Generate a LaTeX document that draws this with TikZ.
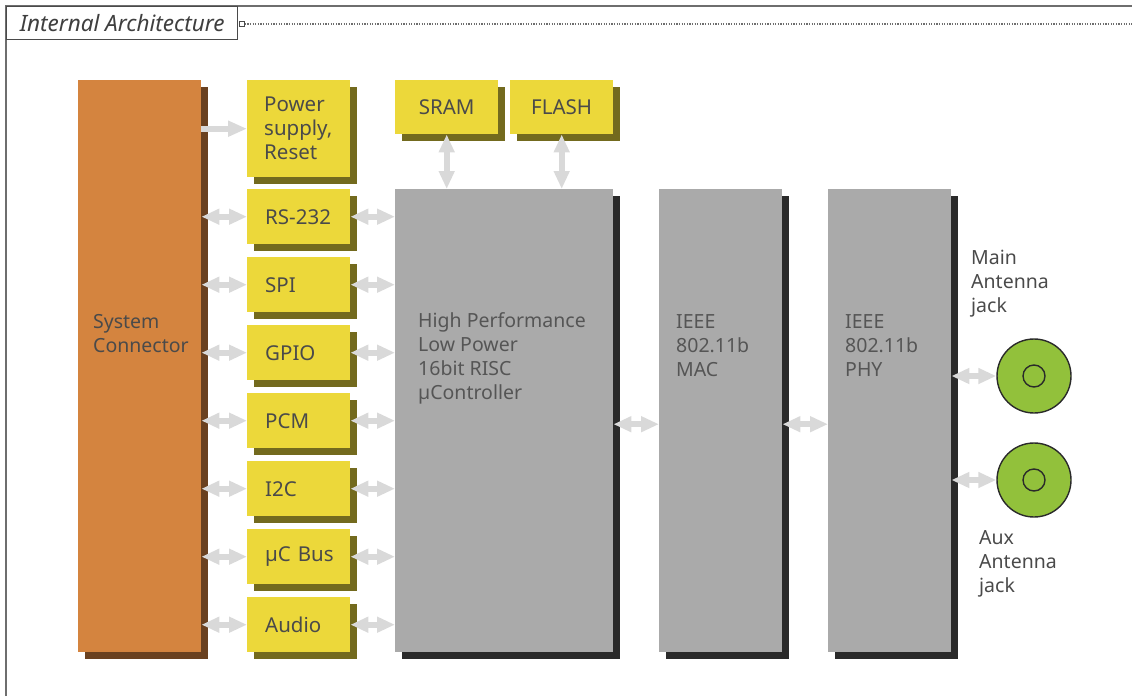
\documentclass[tikz,border=0pt]{standalone}
\usepackage{fontspec}
\setsansfont{Noto Sans}
\usetikzlibrary{arrows.meta,shadows,calc}

\definecolor{sysorange}{HTML}{D4843F}
\definecolor{sysshade}{HTML}{6A4120}
\definecolor{ifyellow}{HTML}{ECD83A}
\definecolor{ifshade}{HTML}{736A1E}
\definecolor{coregray}{HTML}{AAAAAA}
\definecolor{coreshade}{HTML}{2A2A2A}
\definecolor{jackgreen}{HTML}{92C13B}
\definecolor{linkgray}{HTML}{D9D9D9}
\definecolor{labeltext}{HTML}{4A4A4A}
\definecolor{coretext}{HTML}{555555}
\definecolor{frameline}{HTML}{6E6E6E}

\tikzset{
  boxshadow/.style={drop shadow={shadow xshift=7pt, shadow yshift=-7pt, fill=#1, opacity=1}},
  sysbox/.style={fill=sysorange, boxshadow=sysshade, anchor=north west, inner sep=0pt,
    minimum width=123pt, minimum height=572pt},
  port/.style={fill=ifyellow, boxshadow=ifshade, anchor=north west, text=labeltext,
    minimum width=103pt, minimum height=55pt, inner xsep=18pt, text width=67pt, align=left,
    font=\sffamily\fontsize{20.5}{24}\selectfont},
  mem/.style={port, align=center, inner xsep=4pt, text width=95pt, minimum height=54pt},
  core/.style={fill=coregray, boxshadow=coreshade, anchor=north west, inner sep=0pt,
    minimum height=463pt},
  boxtext/.style={anchor=west, align=left, inner sep=0pt, text=coretext,
    font=\sffamily\fontsize{19.5}{24}\selectfont},
  link/.style={draw=linkgray, line width=6pt,
    {Triangle[width=15pt,length=18pt]}-{Triangle[width=15pt,length=18pt]}},
  feed/.style={draw=linkgray, line width=6pt, -{Triangle[width=15pt,length=19pt]}},
  jack/.style={circle, fill=jackgreen, draw=coreshade, line width=1.4pt, minimum size=74pt, inner sep=0pt},
  jackcore/.style={circle, draw=coreshade, line width=1.4pt, minimum size=22pt, inner sep=0pt},
}

\begin{document}
\begin{tikzpicture}[x=1pt, y=-1pt]
  \useasboundingbox (0,0) rectangle (1132,696);

  % ==========================================
  % FRAME & TITLE
  % ==========================================
  \coordinate (frameend) at (1132,6);
  \draw[frameline, line width=1.8pt] (6,696) -- (6,6) -- (frameend);
  \node[draw=coreshade!85, line width=1.3pt, fill=white, anchor=north west,
        minimum width=231pt, minimum height=33pt, text=coreshade!90,
        font=\sffamily\itshape\fontsize{22.5}{24}\selectfont] (title) at (6,6) {Internal Architecture};
  \node[draw=coreshade!85, line width=0.9pt, fill=white, minimum size=5pt, inner sep=0pt] (tab)
        at ($(title.east)+(3.5,1)$) {};
  \draw[frameline, line width=1.4pt, dash pattern=on 1.3pt off 1.3pt] (tab.east) -- (tab.east -| frameend);

  % ==========================================
  % SYSTEM CONNECTOR & INTERFACES
  % ==========================================
  \node[sysbox] (sys) at (78,80) {};
  \node[boxtext, text=labeltext] (systxt) at (93,334) {System\\Connector};

  \node[port, minimum height=97pt, inner xsep=17pt, text width=69pt] (pwr) at (247,80) {Power\\supply,\\Reset};

  \foreach \name/\txt [count=\i] in {rs/RS-232, spi/SPI, gpio/GPIO, pcm/PCM, iic/I2C, ubus/µC Bus, audio/Audio}
    \node[port] (\name) at (247,121+68*\i) {\mbox{\txt}};

  % ==========================================
  % PROCESSOR, MAC & PHY
  % ==========================================
  \node[mem] (sram) at (395,80) {SRAM};
  \node[mem] (flash) at (510,80) {FLASH};

  \node[core, minimum width=218pt] (mcu) at (395,189) {};
  \node[core, minimum width=123pt] (mac) at (659,189) {};
  \node[core, minimum width=123pt] (phy) at (828,189) {};

  \node[boxtext] (mcutxt) at (418,358) {High Performance\\Low Power\\16bit RISC\\µController};
  \node[boxtext] (mactxt) at (676,346) {IEEE\\802.11b\\MAC};
  \node[boxtext] (phytxt) at (845,346) {IEEE\\802.11b\\PHY};

  % ==========================================
  % ANTENNA JACKS
  % ==========================================
  \node[jack] (mainjack) at (1034,376) {};
  \node[jackcore] (mainpin) at (mainjack) {};
  \node[jack] (auxjack) at (1034,480) {};
  \node[jackcore] (auxpin) at (auxjack) {};

  \node[boxtext, text=labeltext] (maintxt) at (971,284) {Main\\Antenna\\jack};
  \node[boxtext, text=labeltext] (auxtxt) at (979,564) {Aux\\Antenna\\jack};

  % ==========================================
  % CONNECTIONS
  % ==========================================
  \draw[feed] (sys.east |- pwr.west) -- (pwr.west);
  \foreach \name in {rs, spi, gpio, pcm, iic, ubus, audio} {
    \draw[link] (sys.east |- \name.west) -- (\name.west);
    \draw[link] (\name.east) -- (mcu.west |- \name.east);
  }
  \draw[link] (sram.south) -- (sram.south |- mcu.north);
  \draw[link] (flash.south) -- (flash.south |- mcu.north);
  \draw[link] ([yshift=-3.5pt]mcu.east) -- ([yshift=-3.5pt]mac.west);
  \draw[link] ([yshift=-3.5pt]mac.east) -- ([yshift=-3.5pt]phy.west);
  \draw[link] (phy.east |- mainjack) -- (mainjack.west);
  \draw[link] (phy.east |- auxjack) -- (auxjack.west);
\end{tikzpicture}
\end{document}
